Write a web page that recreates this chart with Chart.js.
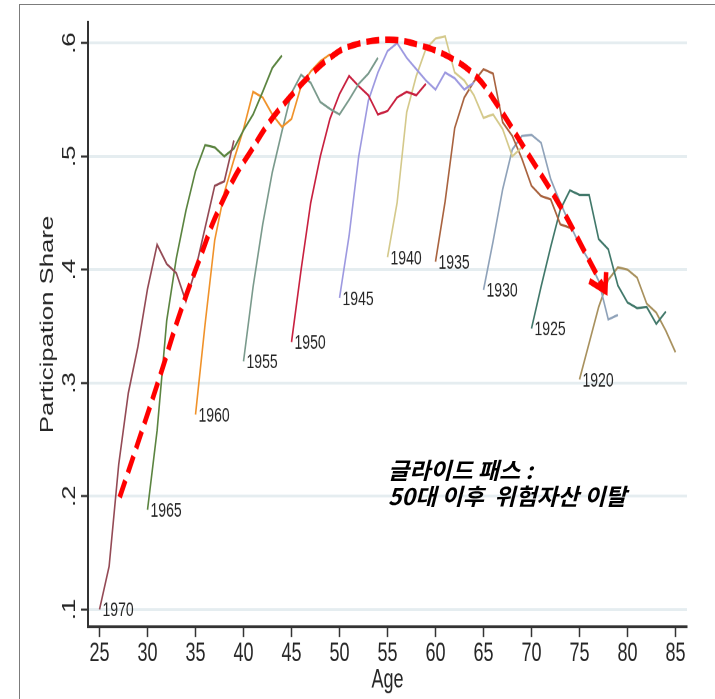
<!DOCTYPE html>
<html>
<head>
<meta charset="utf-8">
<script src="https://cdn.jsdelivr.net/npm/chart.js@4.4.1/dist/chart.umd.min.js"></script>
<style>
  body { margin: 0; background: #fff; }
  #page { position: relative; width: 715px; height: 699px; overflow: hidden; background: #fff; }
  /* the original Stata graph was stretched vertically, so the canvas is too */
  #wrap { position: absolute; left: 0; top: 0; width: 715px; height: 489px;
          transform: scale(1, 1.4294); transform-origin: 0 0; }
  #border { position: absolute; left: 19px; top: 4px; right: -4px; bottom: -4px;
            border-left: 1.5px solid #7c7c7c; border-top: 1.5px solid #7c7c7c; }
  #note { position: absolute; left: 388px; top: 456px; line-height: 26px;
          font-family: "Noto Sans CJK KR", sans-serif; font-weight: 700; font-style: italic;
          font-size: 23px; color: #000; white-space: pre; }
</style>
</head>
<body>
<div id="page">
  <div id="wrap"><canvas id="chart" width="715" height="489"></canvas></div>
  <div id="border"></div>
  <div id="note">글라이드 패스 :
50대 이후  위험자산 이탈</div>
</div>
<script>
// cohorts (birth year) and the age each line starts at
var cohorts = ['1970', '1965', '1960', '1955', '1950', '1945', '1940', '1935', '1930', '1925', '1920'];
var startAges = [25, 30, 35, 40, 45, 50, 55, 60, 65, 70, 75];
var colors = ['#944a55', '#5b8440', '#f0922a', '#7a9a8c', '#c8203f', '#9d99e0',
              '#d4c98b', '#a9633f', '#8fa2b9', '#41786a', '#a8915e'];

// participation share by age, one array per cohort
var share1970 = [0.100, 0.138, 0.228, 0.291, 0.332, 0.383, 0.422, 0.405, 0.397, 0.372, 0.400, 0.437, 0.474, 0.478, 0.514];
var share1965 = [0.188, 0.258, 0.355, 0.410, 0.452, 0.487, 0.510, 0.508, 0.500, 0.507, 0.523, 0.537, 0.557, 0.578, 0.589];
var share1960 = [0.272, 0.352, 0.426, 0.468, 0.497, 0.524, 0.557, 0.552, 0.537, 0.526, 0.533, 0.562, 0.575, 0.584, 0.590];
var share1955 = [0.319, 0.385, 0.440, 0.486, 0.522, 0.556, 0.572, 0.565, 0.548, 0.542, 0.537, 0.550, 0.564, 0.573, 0.587];
var share1950 = [0.336, 0.400, 0.459, 0.500, 0.533, 0.555, 0.571, 0.562, 0.554, 0.537, 0.540, 0.552, 0.557, 0.554, 0.564];
var share1945 = [0.375, 0.430, 0.500, 0.549, 0.574, 0.593, 0.600, 0.587, 0.577, 0.567, 0.559, 0.574, 0.569, 0.559, 0.565];
var share1940 = [0.411, 0.459, 0.539, 0.571, 0.595, 0.604, 0.606, 0.574, 0.567, 0.554, 0.534, 0.537, 0.524, 0.500, 0.508];
var share1935 = [0.407, 0.460, 0.525, 0.552, 0.566, 0.577, 0.573, 0.530, 0.518, 0.498, 0.474, 0.465, 0.462, 0.440, 0.437];
var share1930 = [0.382, 0.425, 0.471, 0.506, 0.518, 0.519, 0.512, 0.480, 0.459, 0.440, 0.422, 0.408, 0.390, 0.356, 0.360];
var share1925 = [0.348, 0.385, 0.420, 0.453, 0.470, 0.466, 0.466, 0.427, 0.418, 0.386, 0.371, 0.366, 0.367, 0.352, 0.363];
var share1920 = [0.303, 0.335, 0.367, 0.391, 0.402, 0.400, 0.393, 0.370, 0.362, 0.346, 0.327];
var shares = [share1970, share1965, share1960, share1955, share1950, share1945,
              share1940, share1935, share1930, share1925, share1920];

// hand-drawn "glide path" arc (age, share)
var glideAges   = [27.1, 29.0, 31.3, 33.4, 35.8, 37.0, 39.1, 40.8, 42.6, 44.8, 47.0, 49.0, 51.0, 55.0, 58.4, 61.8, 64.3, 66.0, 69.5, 73.0, 75.4, 77.7];
var glideShares = [0.199, 0.247, 0.306, 0.362, 0.418, 0.445, 0.482, 0.505, 0.529, 0.552, 0.572, 0.587, 0.597, 0.603, 0.598, 0.586, 0.570, 0.551, 0.504, 0.456, 0.418, 0.381];

var xTicks = [25, 30, 35, 40, 45, 50, 55, 60, 65, 70, 75, 80, 85];
var yTicks = [0.1, 0.2, 0.3, 0.4, 0.5, 0.6];
var yTickLabels = ['.1', '.2', '.3', '.4', '.5', '.6'];

var STRETCH = 699 / 489;
var FONT = '"Liberation Sans", Arial, sans-serif';
var TEXT = '#262626';

var datasets = cohorts.map(function (c, i) {
    return {
        label: c,
        data: shares[i].map(function (v, k) { return { x: startAges[i] + k, y: v }; }),
        borderColor: colors[i],
        borderWidth: 1.6,
        pointRadius: 0,
        tension: 0,
        fill: false,
        order: 1
    };
});

datasets.push({
    label: 'glide',
    data: glideAges.map(function (a, k) { return { x: a, y: glideShares[k] }; }),
    borderColor: '#ff0000',
    borderWidth: 4.5,
    borderDash: [13, 6],
    borderCapStyle: 'butt',
    pointRadius: 0,
    tension: 0.4,
    fill: false,
    order: -1
});

var annotations = {
    id: 'annotations',
    afterDatasetsDraw: function (chart) {
        var ctx = chart.ctx;
        var yScale = chart.scales.y;
        ctx.save();

        // rotated y tick labels
        ctx.font = '18px ' + FONT;
        ctx.fillStyle = TEXT;
        ctx.textAlign = 'center';
        ctx.textBaseline = 'middle';
        yTicks.forEach(function (v, i) {
            ctx.save();
            ctx.translate(yScale.right - 18, yScale.getPixelForValue(v));
            ctx.rotate(-Math.PI / 2);
            ctx.fillText(yTickLabels[i], 0, 0);
            ctx.restore();
        });

        // cohort labels at the start of each line
        ctx.font = '14px ' + FONT;
        ctx.textAlign = 'left';
        cohorts.forEach(function (c, i) {
            var p = chart.getDatasetMeta(i).data[0];
            ctx.fillText(c, p.x + 3, p.y + 1);
        });

        // arrow head at the end of the glide path
        var pts = chart.getDatasetMeta(cohorts.length).data;
        var tip = pts[pts.length - 1], prev = pts[pts.length - 2];
        var ang = Math.atan2((tip.y - prev.y) * STRETCH, tip.x - prev.x);
        var len = 19;
        ctx.strokeStyle = '#ff0000';
        ctx.lineWidth = 4.5;
        ctx.lineJoin = 'miter';
        ctx.beginPath();
        [Math.PI - Math.PI / 6, Math.PI + Math.PI / 6].forEach(function (d, k) {
            var a = ang + d;
            var px = tip.x + len * Math.cos(a);
            var py = tip.y + len * Math.sin(a) / STRETCH;
            if (k === 0) { ctx.moveTo(px, py); ctx.lineTo(tip.x, tip.y); }
            else { ctx.lineTo(px, py); }
        });
        ctx.stroke();
        ctx.restore();
    }
};

new Chart(document.getElementById('chart'), {
    type: 'line',
    data: { datasets: datasets },
    options: {
        responsive: false,
        animation: false,
        devicePixelRatio: 2,
        events: [],
        layout: { padding: { top: 15.4, right: 28, left: 0, bottom: 0 } },
        plugins: { legend: { display: false }, tooltip: { enabled: false } },
        scales: {
            x: {
                type: 'linear',
                min: 23.8,
                max: 86.2,
                afterBuildTicks: function (s) { s.ticks = xTicks.map(function (v) { return { value: v }; }); },
                afterFit: function (s) { s.height = 50.4; },
                ticks: {
                    font: { family: FONT, size: 18 },
                    color: TEXT,
                    padding: 1,
                    maxRotation: 0,
                    autoSkip: false
                },
                grid: { drawOnChartArea: false, tickLength: 7, tickColor: '#333', tickWidth: 1.5 },
                border: { color: '#333', width: 2 },
                title: {
                    display: true,
                    text: 'Age',
                    font: { family: FONT, size: 18 },
                    color: TEXT,
                    padding: { top: 0, bottom: 2 }
                }
            },
            y: {
                min: 0.0845,
                max: 0.6186,
                afterBuildTicks: function (s) { s.ticks = yTicks.map(function (v) { return { value: v }; }); },
                afterFit: function (s) { s.width = 88; },
                ticks: { display: false },
                grid: { color: '#e5edf0', lineWidth: 2, tickLength: 7, tickColor: '#333', tickWidth: 1.5 },
                border: { color: '#333', width: 2 },
                title: {
                    display: true,
                    text: 'Participation Share',
                    font: { family: FONT, size: 18 },
                    color: TEXT,
                    padding: { top: 37, bottom: 0 }
                }
            }
        }
    },
    plugins: [annotations]
});
</script>
</body>
</html>
